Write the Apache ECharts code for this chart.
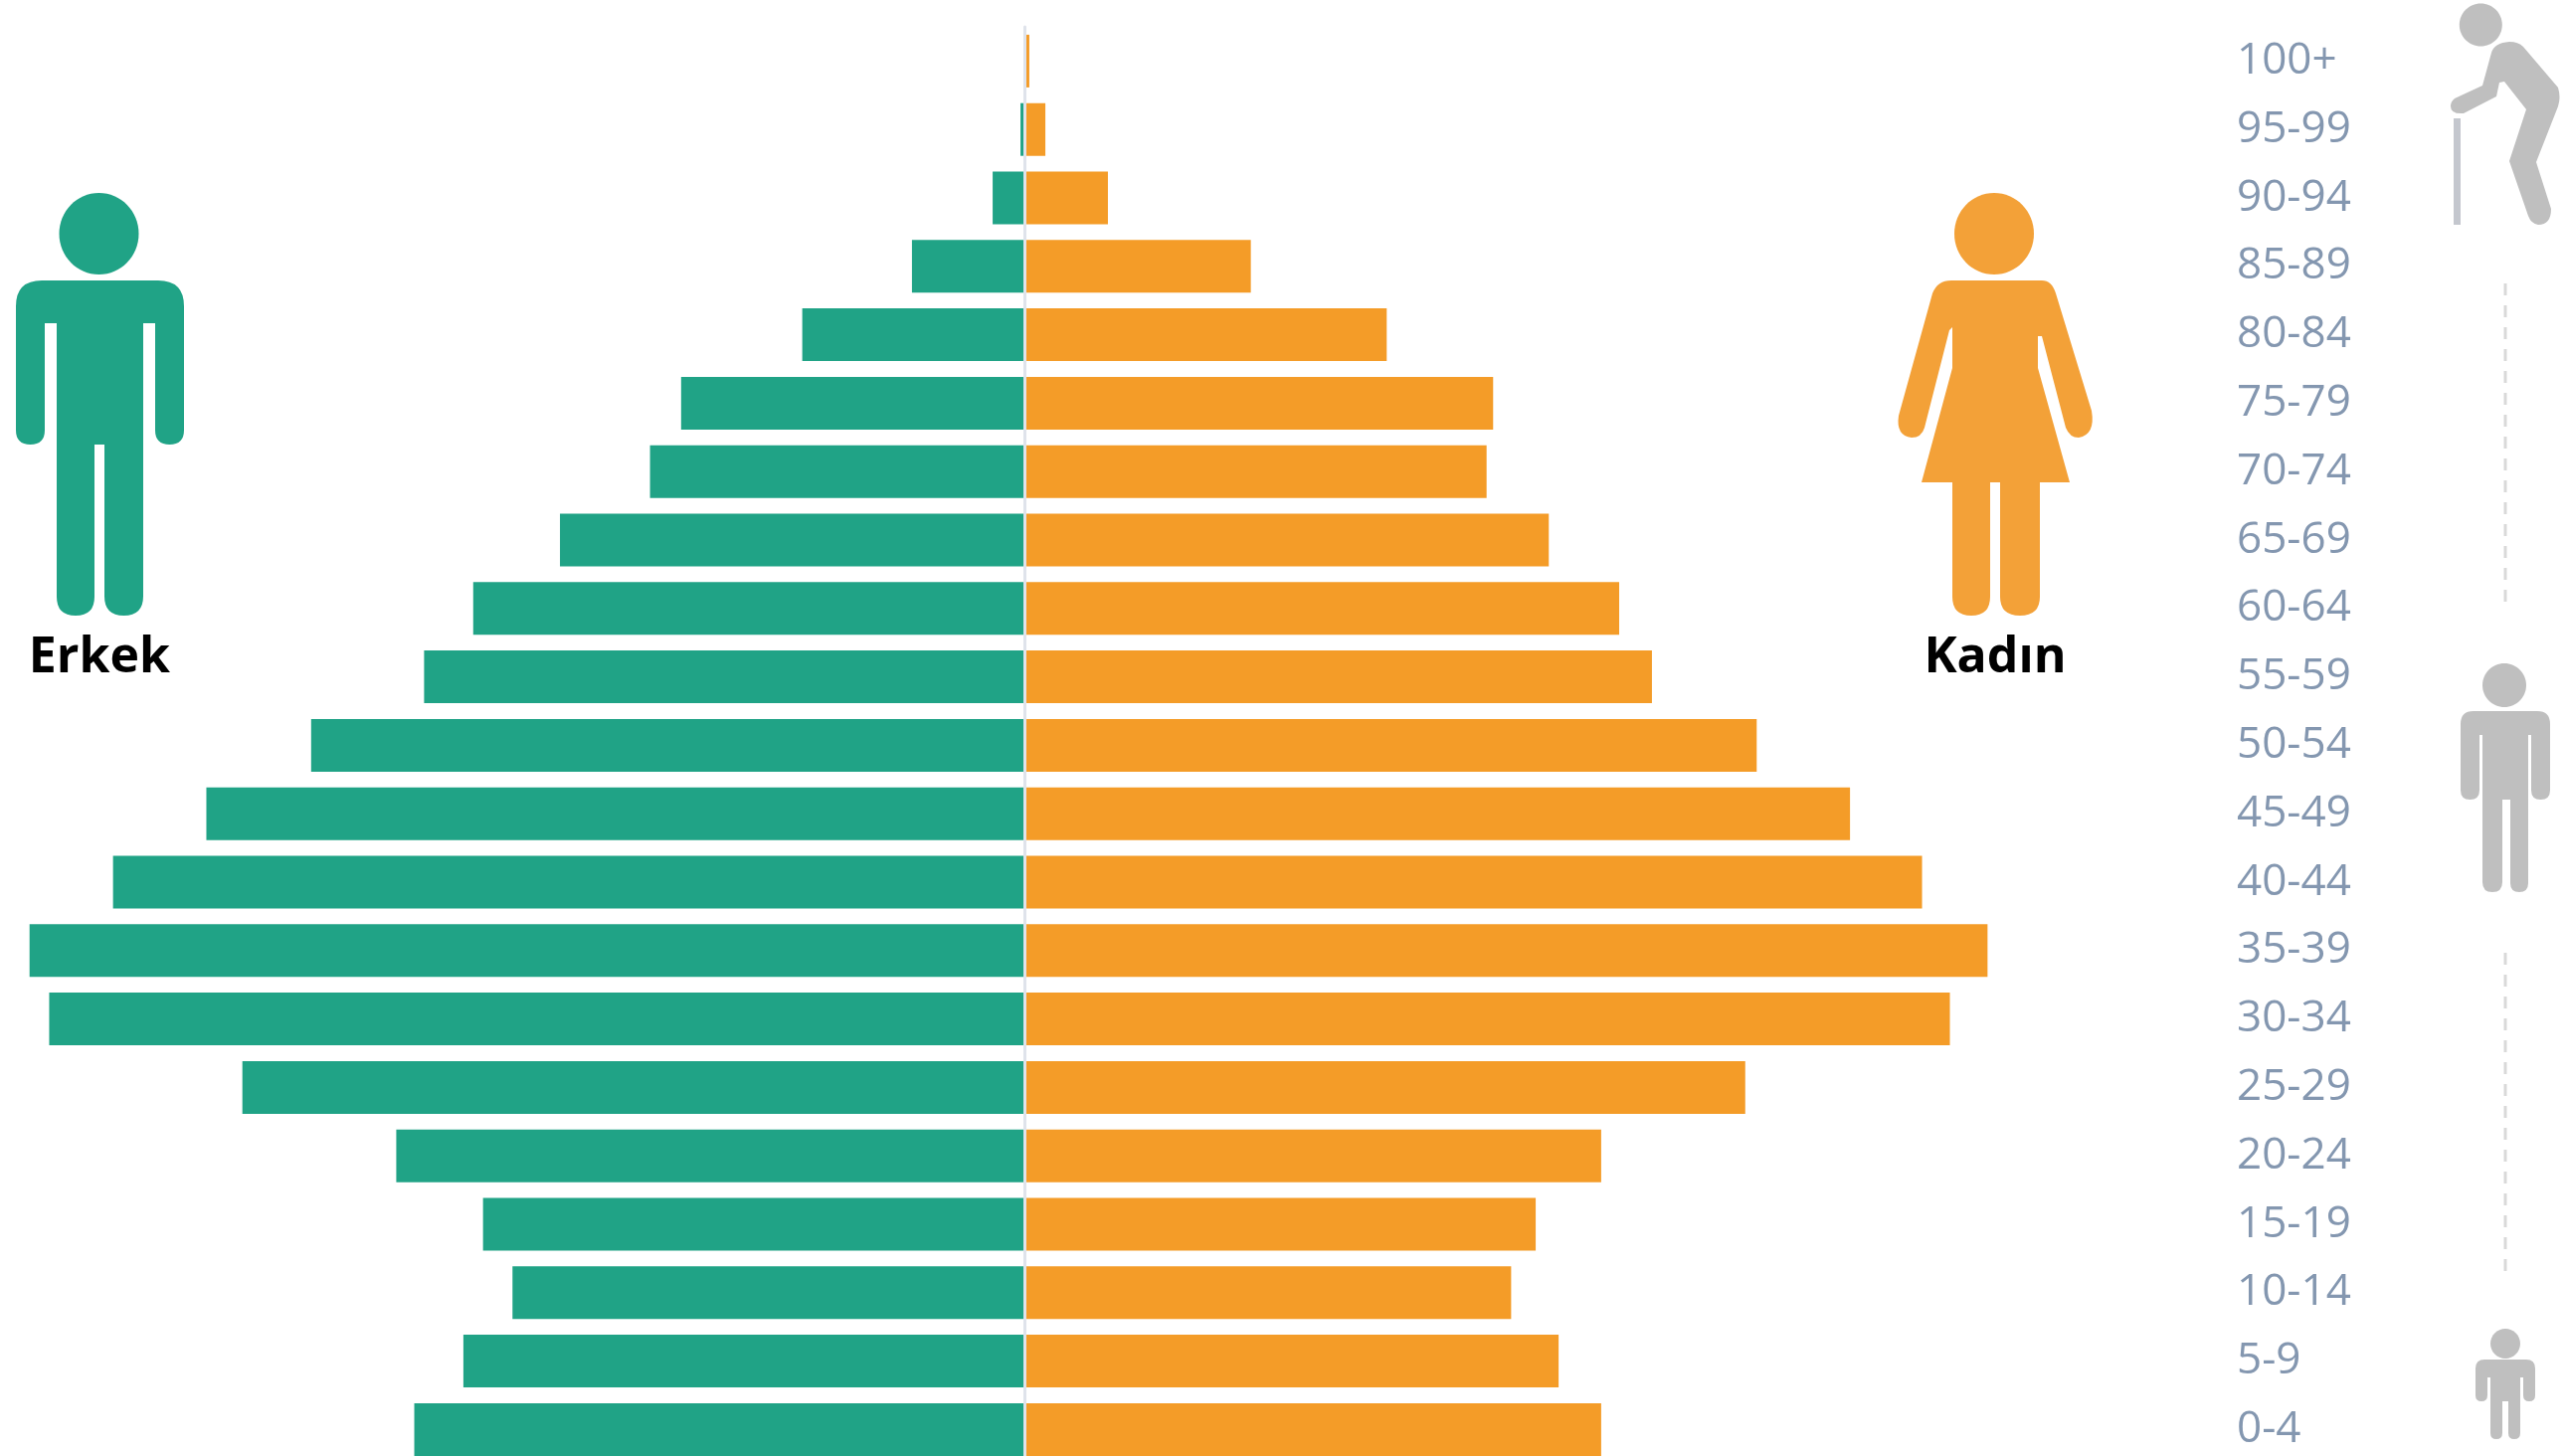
<!DOCTYPE html>
<html><head><meta charset="utf-8">
<style>html,body{margin:0;padding:0;background:#fff}#c{width:2581px;height:1464px}</style>
<script src="https://cdn.jsdelivr.net/npm/echarts@6/dist/echarts.min.js"></script>
</head><body><div id="c"></div>
<script>
const ageGroups = ['0-4','5-9','10-14','15-19','20-24','25-29','30-34','35-39','40-44','45-49','50-54','55-59','60-64','65-69','70-74','75-79','80-84','85-89','90-94','95-99','100+'];
const erkek = [373,343,313,331,384,478,596,608,557,500,436,367,337,284,229,210,136,69,19.7,2.7,0];
const kadin = [352,326,297,312,352,440,565,588,548,504,447,383,363,320,282,286,221,138,50.7,12.5,2.7];
const maleLabel = 'Erkek', femaleLabel = 'Kadın';

const TEAL='#20a386', ORANGE='#f49c28', ICON_ORANGE='#f3a138', GREY='#bfbfbf', DASH='#d9d9d9';

function person(o){
  const {x0,x1,aw,bl,br,gl,gr,top,armTop,armBot,feet,rs}=o;
  const ar=aw/2, lr=(gl-bl)/2, rr=(br-gr)/2;
  return `M${x0+rs} ${top}L${x1-rs} ${top}Q${x1} ${top} ${x1} ${top+rs}L${x1} ${armBot-ar}Q${x1} ${armBot} ${x1-ar} ${armBot}Q${x1-aw} ${armBot} ${x1-aw} ${armBot-ar}L${x1-aw} ${armTop}L${br} ${armTop}L${br} ${feet-rr}Q${br} ${feet} ${br-rr} ${feet}Q${gr} ${feet} ${gr} ${feet-rr}L${gr} ${armBot}L${gl} ${armBot}L${gl} ${feet-lr}Q${gl} ${feet} ${gl-lr} ${feet}Q${bl} ${feet} ${bl} ${feet-lr}L${bl} ${armTop}L${x0+aw} ${armTop}L${x0+aw} ${armBot-ar}Q${x0+aw} ${armBot} ${x0+ar} ${armBot}Q${x0} ${armBot} ${x0} ${armBot-ar}L${x0} ${top+rs}Q${x0} ${top} ${x0+rs} ${top}Z`;
}
const womanPath='M1962 282L2053 282Q2063 282 2067 295L2103 413Q2107 437 2090 440Q2081 440 2077 430L2053 338L2049 338L2049 370L2081 485L2051 485L2051 600Q2051 619 2031 619Q2011 619 2011 600L2011 485L2001 485L2001 600Q2001 619 1982 619Q1963 619 1963 600L1963 485L1932 485L1963 370L1963 329L1960 332L1935 430Q1932 440 1922 440Q1906 438 1909 418L1943 295Q1948 282 1962 282Z';
const oldManPath='M2468 99L2496 86L2505 53Q2508 43 2523 42Q2532 42 2537 47L2572 88Q2575 98 2572 107L2550 163L2565 210Q2565 226 2552 226Q2545 225 2542 217L2523 162L2540 110L2518 82L2513 83L2510 97L2477 114Q2464 115 2464 107Q2464 102 2468 99Z';

const g=[];
let shapeId=0;
const head=(cx,cy,rx,ry,fill)=>g.push({type:'ellipse',shape:{cx,cy,rx,ry},style:{fill},silent:true});
const path=(d,fill)=>{
  const name='icon'+(shapeId++);
  echarts.graphic.registerShape(name,echarts.graphic.extendPath(d,{}));
  g.push({type:name,style:{fill},silent:true});
};
head(99.5,235,40,41,TEAL);
path(person({x0:16,x1:185,aw:29,bl:57,br:144,gl:95,gr:105,top:282,armTop:325,armBot:447,feet:619,rs:26}),TEAL);
head(2005,235,40,41,ICON_ORANGE);
path(womanPath,ICON_ORANGE);
head(2494.3,25,21.5,21.5,GREY);
path(oldManPath,GREY);
g.push({type:'rect',shape:{x:2467,y:119,width:7,height:107},style:{fill:'#c4c7ce'},silent:true});
head(2518,689,22,22,GREY);
path(person({x0:2474,x1:2564,aw:19,bl:2496,br:2542,gl:2516,gr:2524,top:715,armTop:739,armBot:804,feet:897,rs:13}),GREY);
head(2519,1351,15,15,GREY);
path(person({x0:2489,x1:2549,aw:12,bl:2504,br:2534,gl:2516,gr:2522,top:1367,armTop:1385,armBot:1409,feet:1447,rs:9}),GREY);
[[285,609],[958,1280]].forEach(([a,b])=>g.push({type:'line',shape:{x1:2519,y1:a,x2:2519,y2:b},style:{stroke:DASH,lineWidth:3,lineDash:[12,10]},silent:true}));
const txt=(text,x,y)=>g.push({type:'text',x,y,style:{text,fill:'#000',font:'bold 50px "Open Sans"',align:'center',verticalAlign:'middle'},silent:true});
txt(maleLabel,100,662);
txt(femaleLabel,2006,662);

const chart=echarts.init(document.getElementById('c'),null,{renderer:'canvas'});
const SCALE=2581/1568, GL=0, GR=2240;
chart.setOption({
  animation:false,
  backgroundColor:'#fff',
  grid:{left:GL,width:GR-GL,top:27,height:1444.8,containLabel:false,outerBoundsMode:'none'},
  xAxis:{type:'value',min:-(1030.5-GL)/SCALE,max:(GR-1030.5)/SCALE,show:false},
  yAxis:[
    {type:'category',data:ageGroups,position:'left',z:10,axisLine:{show:true,onZero:true,lineStyle:{color:'#dfe3eb',width:3}},axisTick:{show:false},axisLabel:{show:false},splitLine:{show:false}},
    {type:'category',data:ageGroups,position:'right',axisLine:{show:false,onZero:false},axisTick:{show:false},splitLine:{show:false},
     axisLabel:{show:true,interval:0,margin:9,align:'left',color:'#8497b0',fontFamily:'Open Sans',fontSize:44,padding:[4,0,0,0]}}
  ],
  series:[
    {name:maleLabel,type:'bar',yAxisIndex:0,data:erkek.map(v=>-v),barWidth:53,barGap:'-100%',itemStyle:{color:TEAL}},
    {name:femaleLabel,type:'bar',yAxisIndex:0,data:kadin,barWidth:53,barGap:'-100%',itemStyle:{color:ORANGE}}
  ],
  graphic:g
});
</script></body></html>
